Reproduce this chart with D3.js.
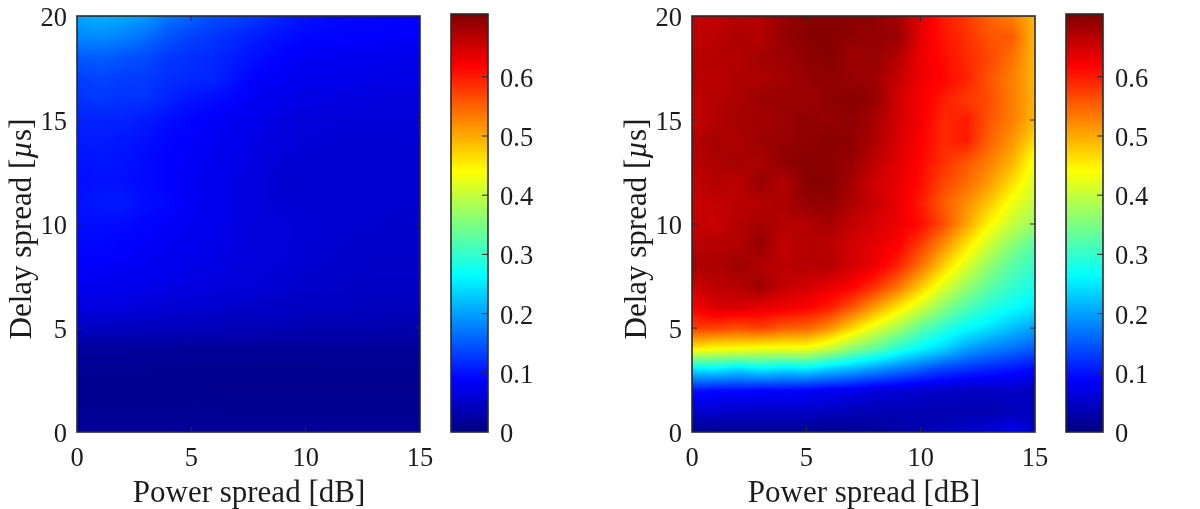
<!DOCTYPE html>
<html>
<head>
<meta charset="utf-8">
<script src="https://cdn.jsdelivr.net/npm/d3@7/dist/d3.min.js"></script>
<style>
html,body{margin:0;padding:0;background:#fff;}
#stage{position:relative;width:1200px;height:509px;overflow:hidden;}
canvas,svg{position:absolute;left:0;top:0;}
text{font-family:"Liberation Serif","Times New Roman",serif;fill:#1c1c1c;}
</style>
</head>
<body>
<div id="stage"></div>
<script>
// Grid coordinates of both surfaces
const powerSpread = d3.range(0, 16);
const delaySpread = d3.range(20, -1, -1);
const xTicks = [0, 5, 10, 15];
const yTicks = [0, 5, 10, 15, 20];
const barTicks = [0, 0.1, 0.2, 0.3, 0.4, 0.5, 0.6];
const barLabels = ["0", "0.1", "0.2", "0.3", "0.4", "0.5", "0.6"];
const valueMax = 0.706;
const xTitle = "Power spread [dB]";

// Left surface, rows run from 20 down to 0 microseconds
const leftValues = [
[.205,.210,.205,.195,.170,.155,.140,.135,.125,.110,.100,.095,.092,.092,.090,.090],
[.182,.185,.178,.165,.145,.132,.125,.115,.105,.098,.092,.090,.088,.088,.086,.085],
[.150,.152,.145,.140,.125,.120,.115,.105,.096,.088,.082,.080,.079,.076,.076,.074],
[.130,.135,.130,.128,.120,.115,.113,.098,.086,.081,.076,.074,.074,.072,.070,.070],
[.122,.126,.122,.122,.110,.100,.095,.089,.079,.074,.069,.068,.067,.064,.064,.064],
[.112,.112,.112,.106,.096,.090,.085,.079,.072,.066,.062,.061,.060,.060,.060,.060],
[.105,.106,.102,.098,.090,.086,.080,.075,.069,.064,.060,.058,.057,.057,.058,.058],
[.100,.102,.100,.094,.088,.084,.078,.073,.066,.059,.057,.057,.057,.057,.058,.058],
[.096,.100,.098,.094,.088,.081,.076,.071,.063,.054,.055,.057,.057,.057,.057,.057],
[.100,.104,.105,.096,.092,.083,.077,.071,.063,.057,.057,.057,.057,.057,.055,.055],
[.096,.096,.094,.090,.085,.079,.075,.069,.064,.061,.059,.057,.055,.055,.053,.053],
[.092,.092,.088,.086,.080,.076,.071,.068,.063,.061,.058,.056,.054,.052,.052,.052],
[.086,.086,.084,.080,.076,.072,.070,.065,.062,.060,.056,.054,.052,.050,.050,.050],
[.078,.078,.076,.074,.070,.066,.064,.061,.059,.055,.053,.051,.049,.047,.047,.047],
[.066,.066,.064,.062,.058,.056,.054,.052,.050,.048,.046,.044,.044,.042,.042,.042],
[.046,.046,.044,.042,.042,.040,.040,.038,.037,.036,.035,.034,.034,.033,.032,.032],
[.020,.020,.020,.019,.019,.018,.018,.018,.017,.017,.017,.016,.016,.016,.016,.016],
[.012,.012,.012,.012,.011,.011,.011,.011,.011,.011,.011,.011,.011,.011,.011,.011],
[.010,.010,.010,.010,.010,.010,.009,.009,.009,.009,.009,.009,.009,.009,.009,.009],
[.012,.012,.012,.012,.012,.012,.012,.011,.011,.011,.011,.011,.011,.011,.011,.011],
[.016,.016,.016,.016,.016,.016,.016,.016,.016,.016,.016,.016,.016,.016,.016,.016]
];

// Right surface, same layout
const rightValues = [
[.660,.660,.670,.670,.690,.700,.700,.700,.695,.680,.640,.600,.580,.550,.530,.490],
[.660,.665,.675,.670,.690,.700,.700,.695,.690,.690,.635,.605,.585,.560,.555,.490],
[.665,.670,.670,.680,.685,.695,.700,.685,.690,.670,.630,.610,.590,.570,.540,.490],
[.670,.665,.675,.675,.680,.690,.695,.690,.685,.660,.630,.615,.595,.560,.530,.490],
[.660,.670,.675,.685,.690,.685,.695,.700,.690,.650,.625,.600,.580,.565,.530,.495],
[.655,.670,.680,.680,.685,.695,.690,.695,.680,.650,.625,.590,.600,.560,.530,.490],
[.670,.680,.675,.685,.690,.695,.700,.695,.675,.645,.620,.590,.600,.550,.515,.465],
[.665,.675,.680,.675,.695,.700,.695,.690,.665,.640,.615,.585,.560,.530,.495,.430],
[.660,.670,.665,.690,.670,.700,.700,.680,.650,.635,.610,.570,.545,.510,.465,.415],
[.655,.660,.665,.670,.675,.690,.695,.675,.655,.635,.600,.555,.520,.480,.430,.395],
[.660,.655,.670,.680,.670,.670,.680,.660,.645,.630,.610,.565,.505,.445,.400,.370],
[.665,.670,.670,.690,.660,.670,.665,.650,.635,.620,.575,.520,.460,.405,.360,.325],
[.680,.675,.685,.670,.665,.670,.670,.650,.630,.595,.540,.475,.415,.365,.325,.300],
[.650,.665,.670,.685,.660,.650,.635,.620,.585,.540,.480,.420,.370,.330,.300,.280],
[.620,.645,.645,.635,.630,.620,.600,.560,.510,.460,.410,.360,.320,.290,.270,.250],
[.575,.575,.565,.575,.555,.550,.520,.470,.420,.380,.330,.295,.265,.245,.220,.200],
[.455,.440,.440,.430,.430,.430,.400,.360,.330,.290,.260,.235,.200,.180,.165,.150],
[.245,.250,.235,.250,.240,.245,.225,.210,.190,.170,.150,.130,.120,.110,.100,.090],
[.100,.095,.095,.090,.090,.085,.080,.075,.065,.060,.055,.050,.045,.045,.050,.045],
[.055,.055,.050,.050,.050,.050,.045,.040,.035,.035,.035,.035,.035,.035,.040,.045],
[.010,.010,.010,.010,.010,.010,.010,.012,.015,.025,.035,.040,.050,.060,.075,.050]
];

const W = 1200, H = 509;
const plotTop = 16, plotBottom = 432, plotWidth = 343;
const barTop = 14, barWidth = 37;
const lineColor = "#2a2a2a";

// Jet colormap over the shared value range
const jetStops = [0, .125, .375, .625, .875, 1];
const jetColors = ["#000080", "#0000ff", "#00ffff", "#ffff00", "#ff0000", "#800000"];
const color = d3.scaleLinear()
  .domain(jetStops.map(f => f * valueMax))
  .range(jetColors)
  .interpolate(d3.interpolateRgb)
  .clamp(true);

const stage = d3.select("#stage");
const canvas = stage.append("canvas").attr("width", W).attr("height", H);
const ctx = canvas.node().getContext("2d");
ctx.fillStyle = "#fff";
ctx.fillRect(0, 0, W, H);
const svg = stage.append("svg").attr("width", W).attr("height", H);

// Bilinear shading between grid nodes, like shading interp
function sample(grid, px, dy) {
  const xi = Math.min(Math.max(px, 0), powerSpread.length - 1.0001);
  const r = Math.min(Math.max(20 - dy, 0), delaySpread.length - 1.0001);
  const x0 = Math.floor(xi), y0 = Math.floor(r);
  const fx = xi - x0, fy = r - y0;
  const top = grid[y0][x0] * (1 - fx) + grid[y0][x0 + 1] * fx;
  const bot = grid[y0 + 1][x0] * (1 - fx) + grid[y0 + 1][x0 + 1] * fx;
  return top * (1 - fy) + bot * fy;
}

function drawPanel(grid, plotLeft, barLeft) {
  const x = d3.scaleLinear().domain([0, 15]).range([plotLeft, plotLeft + plotWidth]);
  const y = d3.scaleLinear().domain([0, 20]).range([plotBottom, plotTop]);
  const bar = d3.scaleLinear().domain([0, valueMax]).range([plotBottom, barTop]);

  // Surface, painted one pixel at a time through the scales
  for (let py = plotTop; py < plotBottom; py++) {
    for (let px = plotLeft; px < plotLeft + plotWidth; px++) {
      ctx.fillStyle = color(sample(grid, x.invert(px + .5), y.invert(py + .5)));
      ctx.fillRect(px, py, 1, 1);
    }
  }
  // Colorbar ramp
  for (let py = barTop; py < plotBottom; py++) {
    ctx.fillStyle = color(bar.invert(py + .5));
    ctx.fillRect(barLeft, py, barWidth, 1);
  }

  const g = svg.append("g");

  // Frame of the axes
  g.append("rect")
    .attr("x", plotLeft).attr("y", plotTop)
    .attr("width", plotWidth).attr("height", plotBottom - plotTop)
    .attr("fill", "none").attr("stroke", lineColor).attr("stroke-width", 1.6);

  // Inward ticks on all four sides
  const tickLen = 5;
  g.selectAll(".xt").data(xTicks.slice(1, -1)).join("path")
    .attr("d", d => `M${x(d)},${plotBottom}v${-tickLen}M${x(d)},${plotTop}v${tickLen}`)
    .attr("stroke", lineColor).attr("stroke-width", 1.1);
  g.selectAll(".yt").data(yTicks.slice(1, -1)).join("path")
    .attr("d", d => `M${plotLeft},${y(d)}h${tickLen}M${plotLeft + plotWidth},${y(d)}h${-tickLen}`)
    .attr("stroke", lineColor).attr("stroke-width", 1.1);

  // Tick labels
  g.selectAll(".xl").data(xTicks).join("text")
    .attr("x", d => x(d)).attr("y", 466)
    .attr("text-anchor", "middle").attr("font-size", 26.5)
    .text(d => d);
  g.selectAll(".yl").data(yTicks).join("text")
    .attr("x", plotLeft - 10).attr("y", d => y(d) + 10)
    .attr("text-anchor", "end").attr("font-size", 26.5)
    .text(d => d);

  // Axis titles
  g.append("text")
    .attr("x", x(7.5) + 0.5).attr("y", 502)
    .attr("text-anchor", "middle").attr("font-size", 31)
    .text(xTitle);
  const yTitle = g.append("text")
    .attr("transform", `translate(${plotLeft - 46},229) rotate(-90)`)
    .attr("text-anchor", "middle").attr("font-size", 31);
  yTitle.append("tspan").text("Delay spread [");
  yTitle.append("tspan").attr("font-style", "italic").text("\u00b5");
  yTitle.append("tspan").text("s]");

  // Colorbar frame, ticks and labels
  g.append("rect")
    .attr("x", barLeft).attr("y", barTop)
    .attr("width", barWidth).attr("height", plotBottom - barTop)
    .attr("fill", "none").attr("stroke", lineColor).attr("stroke-width", 1.6);
  g.selectAll(".bt").data(barTicks.slice(1)).join("path")
    .attr("d", d => `M${barLeft + barWidth},${bar(d)}h-6`)
    .attr("stroke", lineColor).attr("stroke-width", 1.1);
  g.selectAll(".bl").data(barTicks).join("text")
    .attr("x", barLeft + barWidth + 12).attr("y", d => bar(d) + 10)
    .attr("font-size", 26.5)
    .text((d, i) => barLabels[i]);
}

drawPanel(leftValues, 77, 451);
drawPanel(rightValues, 692, 1066);
</script>
</body>
</html>
